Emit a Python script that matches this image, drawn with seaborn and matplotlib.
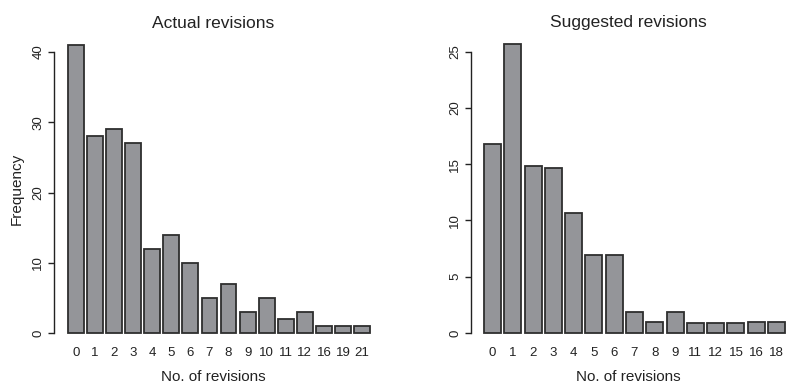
import numpy as np
import pandas as pd
import matplotlib
matplotlib.use('Agg')
import matplotlib.pyplot as plt
import seaborn as sns

# Datos
actual_labels = ['0', '1', '2', '3', '4', '5', '6', '7', '8', '9', '10', '11', '12', '16', '19', '21']
actual_freq = [41, 28, 29, 27, 12, 14, 10, 5, 7, 3, 5, 2, 3, 1, 1, 1]

suggested_labels = ['0', '1', '2', '3', '4', '5', '6', '7', '8', '9', '11', '12', '15', '16', '18']
suggested_freq = [16.8, 25.7, 14.8, 14.7, 10.7, 6.9, 6.9, 1.9, 0.95, 1.9, 0.9, 0.9, 0.85, 1.0, 1.0]

sns.set_style('white')
plt.rcParams['font.family'] = ['Liberation Sans', 'DejaVu Sans']

W, H = 786, 384
fig = plt.figure(figsize=(W / 100, H / 100), dpi=100)

bar_color = '#949599'
edge_color = '#2e2e2e'
txt = '#222222'
bw = 1 / 1.2


def panel(left_px, right_px, bottom_px, top_px, labels, values, ylim, xlim, yticks, title, ylabel):
    ax = fig.add_axes([left_px / W, 1 - bottom_px / H,
                       (right_px - left_px) / W, (bottom_px - top_px) / H])
    df = pd.DataFrame({'rev': labels, 'freq': values})
    sns.barplot(data=df, x='rev', y='freq', order=labels, color=bar_color,
                width=bw, edgecolor=edge_color, linewidth=1.3, saturation=1, ax=ax)
    ax.set_xlim(*xlim)
    ax.set_ylim(*ylim)
    for s in ['top', 'right', 'bottom']:
        ax.spines[s].set_visible(False)
    ax.spines['left'].set_bounds(yticks[0], yticks[-1])
    ax.spines['left'].set_color(txt)
    ax.spines['left'].set_linewidth(1.0)
    ax.set_yticks(yticks)
    ax.set_yticklabels([str(t) for t in yticks], rotation=90, va='center', fontsize=9.5, color=txt)
    ax.tick_params(axis='y', length=4, width=1.0, color=txt, pad=3, left=True)
    ax.tick_params(axis='x', length=0, pad=1.5, labelsize=9.5, labelcolor=txt)
    ax.set_xlabel('No. of revisions', fontsize=11, color=txt, labelpad=8)
    ax.set_ylabel(ylabel, fontsize=11, color=txt, labelpad=6)
    ax.set_title(title, fontsize=12.5, color=txt, pad=4)
    return ax


panel(54, 372, 344.5, 33.5, actual_labels, actual_freq,
      (-1.64, 42.64), (-1.15, 15.52), [0, 10, 20, 30, 40],
      'Actual revisions', 'Frequency')

panel(471, 786, 344.6, 32.2, suggested_labels, suggested_freq,
      (-1.03, 26.73), (-1.06, 14.47), [0, 5, 10, 15, 20, 25],
      'Suggested revisions', '')

fig.savefig('out.png', dpi=100)
